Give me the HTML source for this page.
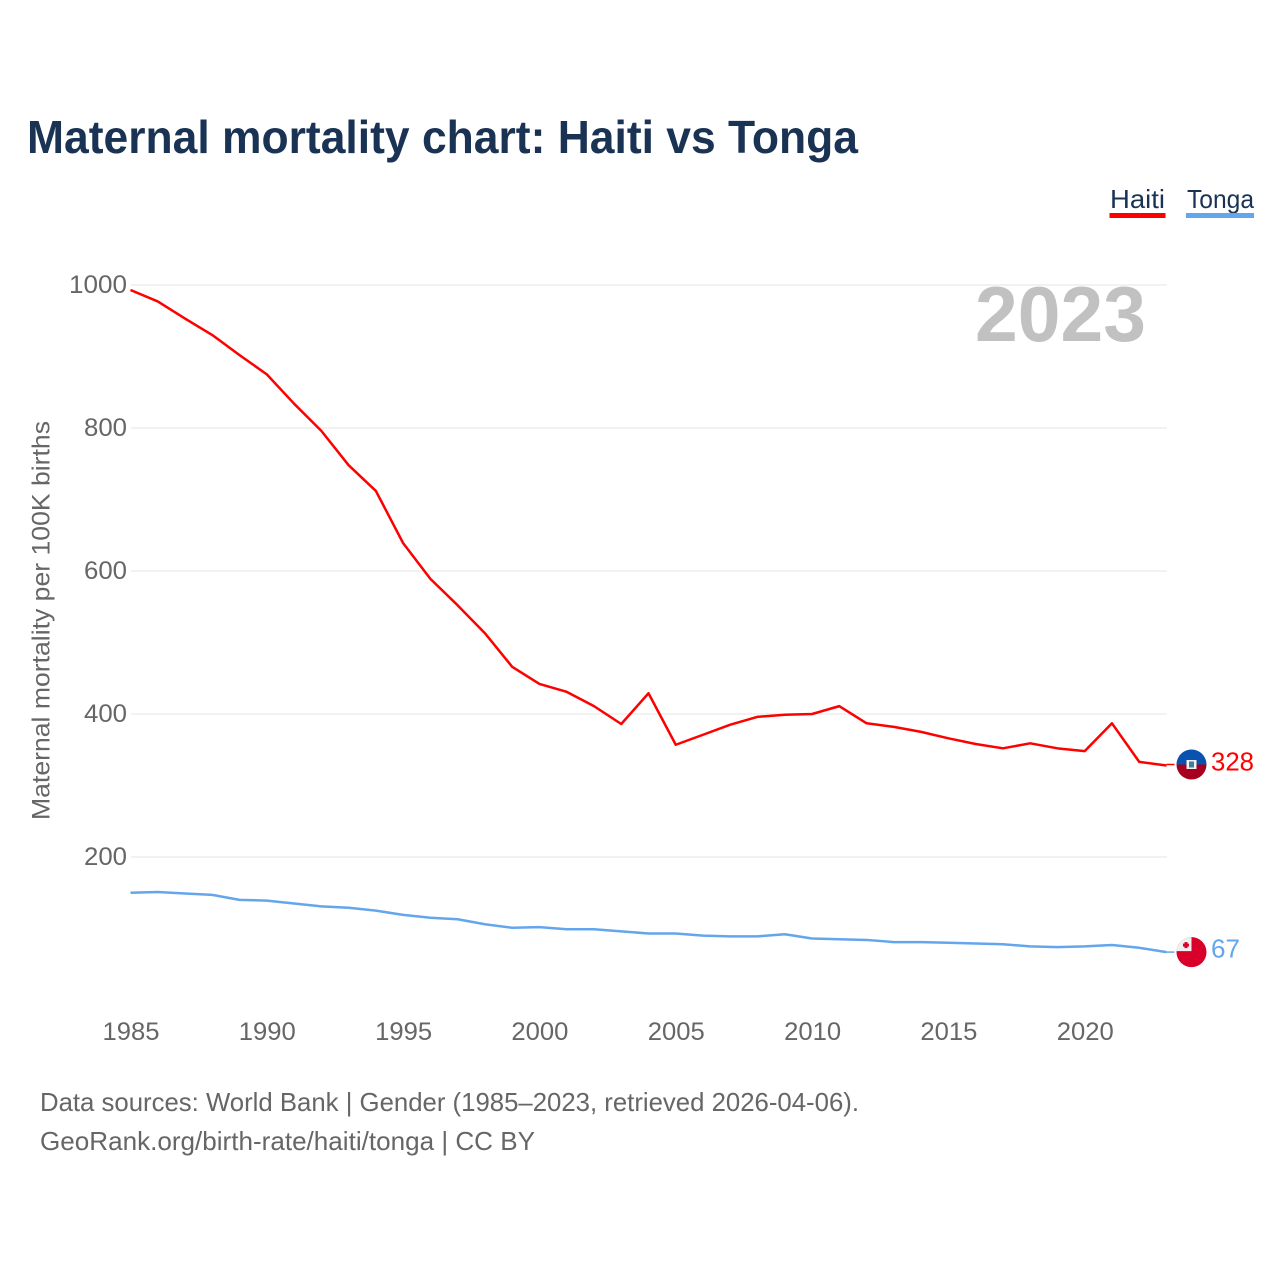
<!DOCTYPE html>
<html lang="en">
<head>
<meta charset="utf-8">
<title>Maternal mortality chart: Haiti vs Tonga</title>
<style>
html,body{margin:0;padding:0;background:#fff}
svg{display:block}
text{font-family:"Liberation Sans",sans-serif}
</style>
</head>
<body>
<svg id="chart" width="1280" height="1280" viewBox="0 0 1280 1280" xmlns="http://www.w3.org/2000/svg">
<rect x="0" y="0" width="1280" height="1280" fill="#ffffff"/>
<text x="27" y="153" font-size="46" font-weight="700" fill="#1a3354" textLength="831" lengthAdjust="spacingAndGlyphs">Maternal mortality chart: Haiti vs Tonga</text>
<g id="gridlines"></g>
<g id="y-ticks"></g>
<g id="x-ticks"></g>
<text transform="translate(49.500,620.5) rotate(-90)" text-anchor="middle" font-size="25" fill="#666666" textLength="399" lengthAdjust="spacingAndGlyphs">Maternal mortality per 100K births</text>
<text x="975" y="341" font-size="78" font-weight="700" fill="#c1c1c1" textLength="171" lengthAdjust="spacingAndGlyphs">2023</text>
<g id="series"></g>
<g>
<text x="1110" y="208" font-size="26" fill="#1a3354" textLength="55" lengthAdjust="spacingAndGlyphs">Haiti</text>
<rect x="1109.500" y="213" width="56" height="5" fill="#ff0000"/>
</g>
<g>
<text x="1187" y="208" font-size="26" fill="#1a3354" textLength="67" lengthAdjust="spacingAndGlyphs">Tonga</text>
<rect x="1186" y="213" width="68" height="5" fill="#64a6ec"/>
</g>
<g id="end-markers"></g>
<text x="40" y="1111" font-size="26" fill="#666666" textLength="819" lengthAdjust="spacingAndGlyphs">Data sources: World Bank | Gender (1985–2023, retrieved 2026-04-06).</text>
<text x="40" y="1150" font-size="26" fill="#666666" textLength="495" lengthAdjust="spacingAndGlyphs">GeoRank.org/birth-rate/haiti/tonga | CC BY</text>
</svg>
<script>
const years = [1985,1986,1987,1988,1989,1990,1991,1992,1993,1994,1995,1996,1997,1998,1999,2000,2001,2002,2003,2004,2005,2006,2007,2008,2009,2010,2011,2012,2013,2014,2015,2016,2017,2018,2019,2020,2021,2022,2023];
const haitiValues = [993,977,953,930,902,875,834,796,748,712,639,589,552,513,466,442,431,411,386,429,357,371,385,396,399,400,411,387,382,375,366,358,352,359,352,348,387,333,328];
const tongaValues = [150,151,149,147,140,139,135,131,129,125,119,115,113,106,101,102,99,99,96,93,93,90,89,89,92,86,85,84,81,81,80,79,78,75,74,75,77,73,67];
const yTickValues = [200,400,600,800,1000];
const xTickYears = [1985,1990,1995,2000,2005,2010,2015,2020];

const NS = 'http://www.w3.org/2000/svg';
const xScale = function (year) { return 130.5 + (year - 1985) * (1166.5 - 130.5) / (2023 - 1985); };
const yScale = function (value) { return 1000 - value * 0.715; };

function make(tag, parent, attrs, content) {
  const el = document.createElementNS(NS, tag);
  Object.keys(attrs).forEach(function (k) { el.setAttribute(k, attrs[k]); });
  if (content !== undefined) el.textContent = content;
  parent.appendChild(el);
  return el;
}

const gridGroup = document.getElementById('gridlines');
const yTickGroup = document.getElementById('y-ticks');
yTickValues.forEach(function (v) {
  const line = make('line', gridGroup, {x1: 131, x2: 1167, y1: yScale(v), y2: yScale(v), stroke: '#eeeeee', 'stroke-width': 1.5});
  
  
  const label = make('text', yTickGroup, {x: 127, y: yScale(v) + 8, 'text-anchor': 'end', 'font-size': 25, fill: '#666666'}, String(v));
  label.setAttribute('textLength', String(v).length === 4 ? 58 : 43);
  label.setAttribute('lengthAdjust', 'spacingAndGlyphs');
  
  
});

const xTickGroup = document.getElementById('x-ticks');
xTickYears.forEach(function (yr) {
  const label = make('text', xTickGroup, {x: xScale(yr) + 0.5, y: 1040, 'text-anchor': 'middle', 'font-size': 25, fill: '#666666', textLength: 57, lengthAdjust: 'spacingAndGlyphs'}, String(yr));
  
  
});

const seriesGroup = document.getElementById('series');
function linePoints(values) {
  return values.map(function (v, i) { return xScale(years[i]).toFixed(2) + ',' + yScale(v).toFixed(2); }).join(' ');
}
const haitiLine = make('polyline', seriesGroup, {points: linePoints(haitiValues), fill: 'none', stroke: '#ff0000', 'stroke-width': 2.5, 'stroke-linejoin': 'round'});


const tongaLine = make('polyline', seriesGroup, {points: linePoints(tongaValues), fill: 'none', stroke: '#64a6ec', 'stroke-width': 2.5, 'stroke-linejoin': 'round'});



const markers = document.getElementById('end-markers');
const lastX = xScale(years[years.length - 1]);
const flagX = lastX + 25;

/* Haiti end marker */
const haitiY = yScale(haitiValues[haitiValues.length - 1]) - 1;
const haitiLeader = make('line', markers, {x1: lastX, x2: lastX + 8, y1: haitiY, y2: haitiY, stroke: '#ff0000', 'stroke-width': 1.5});


const haitiFlag = make('g', markers, {transform: 'translate(' + flagX + ',' + haitiY + ')'});


make('path', haitiFlag, {d: 'M-15,0 A15,15 0 0 1 15,0 Z', fill: '#0a52b0'});
make('path', haitiFlag, {d: 'M-15,0 A15,15 0 0 0 15,0 Z', fill: '#a5001f'});
make('rect', haitiFlag, {x: -5, y: -4.5, width: 10, height: 9, fill: '#f2f2f2'});
make('rect', haitiFlag, {x: -2.5, y: -3, width: 5, height: 6, fill: '#3f7f9a'});
const haitiValueLabel = make('text', markers, {x: 1211, y: haitiY + 6, 'font-size': 26, fill: '#ff0000', textLength: 43, lengthAdjust: 'spacingAndGlyphs'}, String(haitiValues[haitiValues.length - 1]));



/* Tonga end marker */
const tongaY = yScale(tongaValues[tongaValues.length - 1]);
const tongaLeader = make('line', markers, {x1: lastX, x2: lastX + 8, y1: tongaY, y2: tongaY, stroke: '#64a6ec', 'stroke-width': 1.5});


const tongaFlag = make('g', markers, {transform: 'translate(' + flagX + ',' + tongaY + ')'});


make('circle', tongaFlag, {cx: 0, cy: 0, r: 15, fill: '#d90029'});
make('path', tongaFlag, {d: 'M-15,-1 A15,15 0 0 1 0,-15 L0,-1 Z', fill: '#efefef'});
make('rect', tongaFlag, {x: -7, y: -10, width: 3, height: 6, fill: '#d90029'});
make('rect', tongaFlag, {x: -8.5, y: -8.500, width: 6, height: 3, fill: '#d90029'});
const tongaValueLabel = make('text', markers, {x: 1211, y: tongaY + 5.5, 'font-size': 26, fill: '#64a6ec', textLength: 29, lengthAdjust: 'spacingAndGlyphs'}, String(tongaValues[tongaValues.length - 1]));


</script>
</body>
</html>
